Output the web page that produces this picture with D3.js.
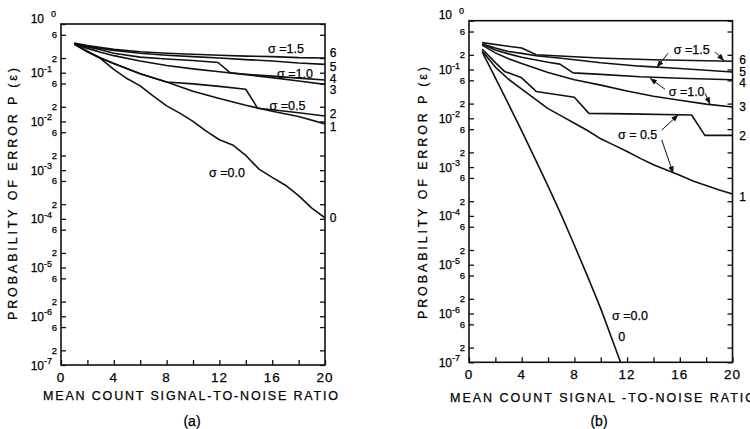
<!DOCTYPE html>
<html>
<head>
<meta charset="utf-8">
<script src="https://cdn.jsdelivr.net/npm/d3@7"></script>
<style>
  body { margin: 0; background: #fff; }
  svg { display: block; font-family: "Liberation Sans", Arial, sans-serif; }
  svg text { fill: #000; stroke: #000; stroke-width: 0.25; }
</style>
</head>
<body>
<svg id="chart" width="750" height="429"></svg>
<script>
// values: [mean count SNR, P(e)]
// panel (a)
var a0 = [[1,0.389],[2,0.275],[3,0.195],[4,0.117],[5,0.0759],[6,0.0537],[7,0.0331],[8,0.0209],[9,0.0148],[10,0.0100],
          [11,0.0063],[12,0.0042],[13,0.0033],[14,0.0020],[15,0.00105],[16,0.00071],[17,0.00049],[18,0.00030],[19,0.000166],[20,0.000105]];
var a1 = [[1,0.389],[2,0.269],[3,0.200],[4,0.155],[6,0.0955],[8,0.0646],[10,0.0417],[12,0.0295],[14,0.0214],[16,0.0162],[18,0.0126],[20,0.0089]];
var a2 = [[1,0.389],[2,0.269],[3,0.200],[4,0.155],[6,0.0955],[8,0.0646],[10,0.0589],[12,0.0525],[14,0.0457],[14.9,0.0186],[16,0.0174],[18,0.0151],[20,0.0129]];
var a3 = [[1,0.389],[2,0.316],[3,0.263],[4,0.224],[6,0.174],[8,0.141],[10,0.120],[12,0.105],[14,0.0912],[16,0.0794],[18,0.0676],[20,0.0575]];
var a4 = [[1,0.398],[2,0.339],[3,0.295],[4,0.251],[6,0.209],[8,0.191],[10,0.178],[11.9,0.162],[12.8,0.100],[14,0.0933],[16,0.0851],[18,0.0776],[20,0.0708]];
var a5 = [[1,0.389],[2,0.347],[4,0.288],[6,0.251],[8,0.229],[10,0.214],[12,0.200],[14,0.186],[16,0.174],[18,0.158],[20,0.148]];
var a6 = [[1,0.407],[2,0.363],[4,0.302],[6,0.269],[8,0.251],[10,0.240],[12,0.229],[14,0.219],[16,0.214],[18,0.204],[20,0.200]];

// panel (b)
var b0 = [[1,0.229],[2,0.0676],[3,0.0195],[4,0.0055],[5,0.00151],[6,4.07e-4],[7,1.05e-4],[8,2.5e-5],[9,5.75e-6],[10,1.26e-6],[11,2.34e-7],[11.5,1.0e-7]];
var b1 = [[1,0.240],[2,0.112],[3,0.0631],[4,0.0398],[5,0.0251],[6,0.0158],[7,0.0112],[8,0.00794],[9,0.00562],[10,0.0038],
          [11,0.00282],[12,0.00209],[13,0.00151],[14,0.00112],[15,0.00087],[16,0.00068],[17,0.00052],[18,0.00042],[19,0.00034],[20,0.00028]];
var b2 = [[1,0.263],[2,0.138],[2.7,0.0912],[4,0.0676],[5.1,0.0355],[8,0.0269],[9.1,0.0126],[12,0.0123],[16.9,0.0117],[17.9,0.00447],[20,0.00447]];
var b3 = [[1,0.316],[2,0.219],[3,0.166],[4,0.132],[6,0.0871],[8,0.0617],[10,0.0479],[12,0.0363],[14,0.0282],[16,0.0234],[18,0.0195],[20,0.0170]];
var b4 = [[1,0.331],[2,0.251],[3,0.209],[4,0.178],[5,0.158],[6,0.141],[6.9,0.129],[7.9,0.0851],[10,0.0794],[13,0.0708],[16,0.0661],[20,0.0617]];
var b5 = [[1,0.331],[2,0.275],[3,0.234],[4,0.214],[5.1,0.191],[7,0.170],[10,0.138],[13,0.117],[16,0.105],[20,0.0891]];
var b6 = [[1,0.355],[4,0.275],[5.1,0.200],[8,0.182],[10.3,0.170],[14,0.158],[20,0.148]];

// curve numbers at the right edge, [label, P]
var endA = [["6",0.254],["5",0.131],["4",0.0743],["3",0.0441],["2",0.0142],["1",0.00767],["0",1.05e-4]];
var endB = [["6",0.157],["5",0.0877],["4",0.0521],["3",0.0168],["2",0.00434],["1",2.44e-4]];

// sigma labels, [text, snr, P]
var sigA = [["σ =1.5",17.05,0.307],["σ =1.0",17.73,0.0986],["σ =0.5",17.16,0.0217],["σ =0.0",12.58,9.14e-4]];
var sigB = [["σ =1.5",16.91,0.251],["σ =1.0",16.52,0.0351],["σ = 0.5",12.8,0.00455],["σ =0.0",12.22,9.3e-7],["0",11.6,3.35e-7]];

// arrows in (b): [from snr, from P, to snr, to P]
var arrowsB = [[15.11,0.215,14.25,0.111],[18.68,0.232,19.36,0.151],
               [14.88,0.0393,13.74,0.066],[17.92,0.0325,18.3,0.0195],
               [14.63,0.00575,15.89,0.0118],[14.63,0.00359,15.5,7.46e-4]];

var xTickLabels = [0,4,8,12,16,20];
var decades = [0,-1,-2,-3,-4,-5,-6,-7];

var svg = d3.select("#chart");

var defs = svg.append("defs");
defs.append("marker")
  .attr("id", "arrow")
  .attr("viewBox", "0 0 10 10")
  .attr("refX", 10).attr("refY", 5)
  .attr("markerWidth", 7).attr("markerHeight", 7)
  .attr("markerUnits", "userSpaceOnUse")
  .attr("orient", "auto")
  .append("path")
  .attr("d", "M0,1 L10,5 L0,9 Z")
  .attr("fill", "#111");

function drawPanel(p) {
  var x = d3.scaleLinear().domain([0, 20]).range([p.left, p.right]);
  var y = d3.scaleLog().domain([1e-7, 1]).range([p.bottom, p.top]);
  var g = svg.append("g");

  defs.append("clipPath").attr("id", "clip-" + p.name)
    .append("rect")
    .attr("x", p.left).attr("y", p.top)
    .attr("width", p.right - p.left).attr("height", p.bottom - p.top);

  // inward ticks on bottom, left, right
  var yTicks = [];
  decades.forEach(function(e) {
    yTicks.push(Math.pow(10, e));
    if (e < 0) { yTicks.push(2 * Math.pow(10, e)); yTicks.push(6 * Math.pow(10, e)); }
  });

  g.append("g")
    .attr("transform", "translate(0," + p.bottom + ")")
    .call(d3.axisBottom(x).tickValues(d3.range(0, 21, 2)).tickSizeInner(-5).tickSizeOuter(0).tickFormat(""))
    .call(function(s) { s.select(".domain").remove(); s.selectAll("line").attr("stroke", "#111").attr("stroke-width", 1.3); });

  g.append("g")
    .attr("transform", "translate(" + p.left + ",0)")
    .call(d3.axisLeft(y).tickValues(yTicks).tickSizeInner(-5).tickSizeOuter(0).tickFormat(""))
    .call(function(s) { s.select(".domain").remove(); s.selectAll("line").attr("stroke", "#111").attr("stroke-width", 1.3); });

  g.append("g")
    .attr("transform", "translate(" + p.right + ",0)")
    .call(d3.axisRight(y).tickValues(yTicks).tickSizeInner(-5).tickSizeOuter(0).tickFormat(""))
    .call(function(s) { s.select(".domain").remove(); s.selectAll("line").attr("stroke", "#111").attr("stroke-width", 1.3); });

  // frame
  g.append("rect")
    .attr("x", x(0)).attr("y", y(1))
    .attr("width", x(20) - x(0)).attr("height", y(1e-7) - y(1))
    .attr("fill", "none").attr("stroke", "#111").attr("stroke-width", 1.6);

  // x tick labels
  g.selectAll(".xl").data(xTickLabels).enter().append("text")
    .attr("x", function(d) { return x(d); })
    .attr("y", p.bottom + 17)
    .attr("text-anchor", "middle")
    .attr("font-size", 13.5)
    .attr("letter-spacing", 1)
    .text(function(d) { return d; });

  // y decade labels 10^n
  decades.forEach(function(e) {
    var yy = y(Math.pow(10, e)) + (e === 0 ? -6 : 0);
    g.append("text")
      .attr("x", p.left - 17).attr("y", yy + 4.5)
      .attr("text-anchor", "end")
      .attr("font-size", 12)
      .text("10");
    g.append("text")
      .attr("x", p.left - (e === 0 ? 5 : 17)).attr("y", yy - 1)
      .attr("text-anchor", e === 0 ? "end" : "start")
      .attr("font-size", 9)
      .text(e === 0 ? "0" : "-" + (-e));
  });

  // minor labels 2 and 6
  decades.forEach(function(e) {
    if (e === 0) return;
    [2, 6].forEach(function(m) {
      g.append("text")
        .attr("x", p.left - 4).attr("y", y(m * Math.pow(10, e)) + 3.5)
        .attr("text-anchor", "end")
        .attr("font-size", 9.5)
        .text(m);
    });
  });

  // curves
  var line = d3.line()
    .x(function(d) { return x(d[0]); })
    .y(function(d) { return y(d[1]); });

  g.append("g").attr("clip-path", "url(#clip-" + p.name + ")")
    .selectAll("path").data(p.curves).enter().append("path")
    .attr("d", line)
    .attr("fill", "none")
    .attr("stroke", "#111")
    .attr("stroke-width", 1.6)
    .attr("stroke-linejoin", "round");

  // curve numbers at right
  g.selectAll(".end").data(p.ends).enter().append("text")
    .attr("x", p.right + p.endOffset)
    .attr("y", function(d) { return y(d[1]) + 4; })
    .attr("text-anchor", "middle")
    .attr("font-size", 12)
    .text(function(d) { return d[0]; });

  // sigma labels
  g.selectAll(".sig").data(p.sigmas).enter().append("text")
    .attr("x", function(d) { return x(d[1]); })
    .attr("y", function(d) { return y(d[2]) + 4.5; })
    .attr("text-anchor", "middle")
    .attr("font-size", 12.5)
    .text(function(d) { return d[0]; });

  // arrows
  g.selectAll(".arr").data(p.arrows).enter().append("line")
    .attr("x1", function(d) { return x(d[0]); })
    .attr("y1", function(d) { return y(d[1]); })
    .attr("x2", function(d) { return x(d[2]); })
    .attr("y2", function(d) { return y(d[3]); })
    .attr("stroke", "#111").attr("stroke-width", 1)
    .attr("marker-end", "url(#arrow)");

  // axis titles
  g.append("text")
    .attr("transform", "translate(" + p.yTitleX + "," + p.yTitleY + ") rotate(-90)")
    .attr("text-anchor", "middle")
    .attr("font-size", 12.5)
    .attr("textLength", 252).attr("lengthAdjust", "spacing")
    .text("PROBABILITY OF ERROR P (ε)");

  g.append("text")
    .attr("x", p.xTitleX).attr("y", p.xTitleY)
    .attr("text-anchor", p.xTitleAnchor)
    .attr("font-size", 12.5)
    .attr("textLength", p.xTitleLen).attr("lengthAdjust", "spacing")
    .text(p.xTitle);

  g.append("text")
    .attr("x", p.subX).attr("y", 426)
    .attr("text-anchor", "middle")
    .attr("font-size", 14)
    .text(p.sub);
}

drawPanel({
  name: "a", left: 61, right: 325, top: 24, bottom: 365,
  curves: [a0, a1, a2, a3, a4, a5, a6], ends: endA, endOffset: 8, sigmas: sigA, arrows: [],
  yTitleX: 17, yTitleY: 194,
  xTitle: "MEAN COUNT SIGNAL-TO-NOISE RATIO", xTitleX: 190.5, xTitleY: 400, xTitleAnchor: "middle", xTitleLen: 295,
  sub: "(a)", subX: 192
});

drawPanel({
  name: "b", left: 469, right: 732.5, top: 20.7, bottom: 362.3,
  curves: [b0, b1, b2, b3, b4, b5, b6], ends: endB, endOffset: 10, sigmas: sigB, arrows: arrowsB,
  yTitleX: 427, yTitleY: 193,
  xTitle: "MEAN COUNT SIGNAL -TO-NOISE RATIO", xTitleX: 450, xTitleY: 402, xTitleAnchor: "start", xTitleLen: 305,
  sub: "(b)", subX: 599
});
</script>
</body>
</html>
